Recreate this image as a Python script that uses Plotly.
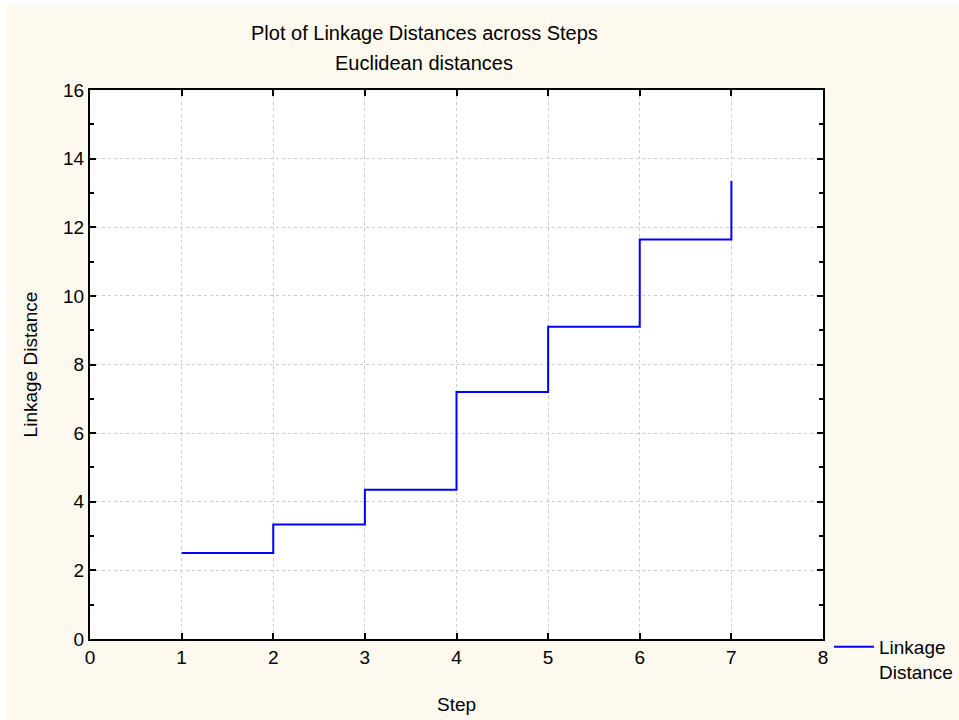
import plotly.graph_objects as go

steps = [1, 2, 3, 4, 5, 6, 7]
linkage_distance = [2.51, 3.34, 4.35, 7.2, 9.1, 11.64, 13.35]
series_name = "Linkage<br>Distance"
title_line1 = "Plot of Linkage Distances across Steps"
title_line2 = "Euclidean distances"
x_title = "Step"
y_title = "Linkage Distance"

W, H = 953, 715
L, R, T, B = 84, 136, 85, 81
FONT = "Liberation Sans, Arial, sans-serif"
FS = 19

fig = go.Figure()
fig.add_trace(go.Scatter(
    x=steps, y=linkage_distance, mode="lines", line_shape="hv",
    line=dict(color="#0000FF", width=2), name=series_name, showlegend=True,
))

axis_common = dict(
    showline=True, linecolor="black", linewidth=2, mirror="allticks",
    ticks="inside", ticklen=6, tickwidth=1.5, tickcolor="black",
    showgrid=True, gridcolor="#cccccc", griddash="dot", gridwidth=1,
    zeroline=False, tickfont=dict(family=FONT, size=FS, color="black"),
)

fig.update_xaxes(range=[0, 8], dtick=1, tick0=0, **axis_common,
                 title=dict(text=x_title, font=dict(family=FONT, size=FS, color="black"), standoff=31))
fig.update_yaxes(range=[0, 16], dtick=2, tick0=0, **axis_common,
                 minor=dict(ticks="inside", ticklen=4, dtick=1, tickcolor="black", showgrid=False),
                 title=dict(text=y_title, font=dict(family=FONT, size=FS, color="black"), standoff=20))

pw = W - L - R
ph = H - T - B
def px_to_paper_x(px):
    return (px - L) / pw

fig.add_annotation(text=title_line1, xref="paper", yref="paper",
                   x=px_to_paper_x(418), y=1 + (T - 28) / ph,
                   showarrow=False, font=dict(family=FONT, size=20, color="black"),
                   xanchor="center", yanchor="middle")
fig.add_annotation(text=title_line2, xref="paper", yref="paper",
                   x=px_to_paper_x(418), y=1 + (T - 58) / ph,
                   showarrow=False, font=dict(family=FONT, size=20, color="black"),
                   xanchor="center", yanchor="middle")

fig.update_layout(
    width=W, height=H,
    margin=dict(l=L, r=R, t=T, b=B, autoexpand=False),
    paper_bgcolor="#FDF9EE", plot_bgcolor="white",
    font=dict(family=FONT, size=FS, color="black"),
    legend=dict(x=px_to_paper_x(823), y=0.02, xanchor="left", yanchor="top",
                valign="top", itemwidth=40, bgcolor="rgba(0,0,0,0)",
                font=dict(family=FONT, size=FS, color="black")),
)

fig.write_html("out.html", post_script="document.body.style.margin='5px 0 0 6px';")
